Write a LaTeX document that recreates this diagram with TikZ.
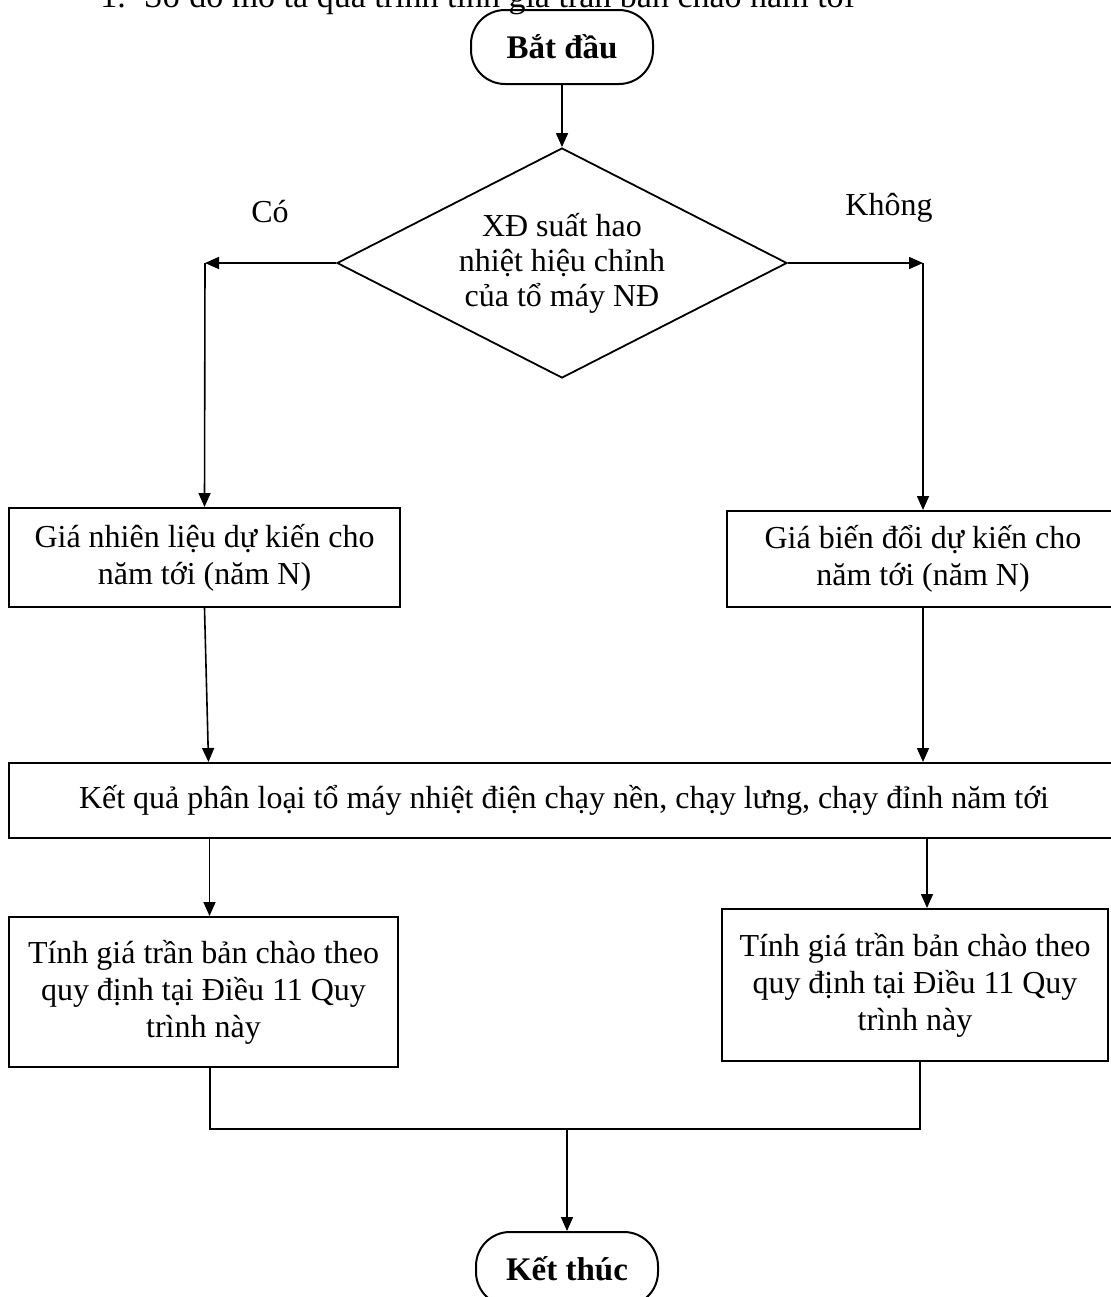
\documentclass[tikz,border=0pt]{standalone}
\usepackage{fontspec}
\setmainfont{Liberation Serif}
\usetikzlibrary{shapes.geometric,arrows.meta,positioning}

\begin{document}
\begin{tikzpicture}[
    x=0.5pt, y=-0.5pt,
    every node/.style={font=\fontsize{16}{18.5}\selectfont},
    box/.style={draw, line width=1pt, align=center, inner sep=0pt}, % process boxes
    terminal/.style={draw, line width=1pt, rounded corners=17pt, minimum width=91pt, minimum height=37pt, font=\fontsize{16.5}{18}\selectfont\bfseries},
    decision/.style={draw, diamond, aspect=2, line width=0.9pt, align=center, inner sep=0pt, minimum width=225pt, minimum height=115pt, font=\fontsize{16}{17.5}\selectfont},
    arr/.style={line width=0.8pt, -{Triangle[length=7pt,width=6pt]}},
    link/.style={line width=0.8pt}
]
    \useasboundingbox (0,0) rectangle (1110,1297);

    % Title (cut off at the top)
    \node[anchor=base west, inner sep=0pt, font=\fontsize{17}{19}\selectfont] (title) at (100,7) {1.\hspace{9pt}Sơ đồ mô tả quá trình tính giá trần bản chào năm tới};

    % Start and decision
    \node[terminal] (start) at (562,47) {Bắt đầu};
    \node[decision] (dec) at (562,263) {XĐ suất hao\\nhiệt hiệu chỉnh\\của tổ máy NĐ};
    \node (yeslbl) at (270,212) {Có};
    \node (nolbl) at (889,208) {Không};

    % Turning points of the two branches
    \coordinate (yes) at (205,263);
    \coordinate (no) at (923,263);

    % Prices
    \node[box, minimum width=195.5pt, minimum height=49.5pt] (fuel) at (204.5,557.5) {Giá nhiên liệu dự kiến cho\\năm tới (năm N)};
    \node[box, minimum width=196pt, minimum height=48pt] (vary) at (923,559) {Giá biến đổi dự kiến cho\\năm tới (năm N)};

    % Classification
    \node[box, minimum width=555pt, minimum height=37.5pt] (class) at (564,800.5) {Kết quả phân loại tổ máy nhiệt điện chạy nền, chạy lưng, chạy đỉnh năm tới};

    % Ceiling price
    \node[box, minimum width=194.5pt, minimum height=75pt] (calcL) at (203.5,992) {Tính giá trần bản chào theo\\quy định tại Điều 11 Quy\\trình này};
    \node[box, minimum width=193pt, minimum height=76pt] (calcR) at (915,985) {Tính giá trần bản chào theo\\quy định tại Điều 11 Quy\\trình này};

    \node[terminal] (stop) at (567,1269) {Kết thúc};

    % Join points
    \coordinate (joinL) at (210,1129);
    \coordinate (joinR) at (920,1129);
    \coordinate (joinM) at (567,1129);

    % Connectors
    \draw[arr] (start) -- (dec);
    \draw[arr] (dec.west) -- (yes);
    \draw[arr] (yes) -- (fuel.north);
    \draw[arr] (dec.east) -- (no);
    \draw[arr] (no) -- (vary.north);
    \draw[arr] (fuel.south) -- ([xshift=2pt]fuel.south |- class.north);
    \draw[arr] (vary.south) -- (vary.south |- class.north);
    \draw[arr] ([xshift=3pt]calcL.north |- class.south) -- ([xshift=3pt]calcL.north);
    \draw[arr] ([xshift=6pt]calcR.north |- class.south) -- ([xshift=6pt]calcR.north);
    \draw[link] (joinL |- calcL.south) -- (joinL) -- (joinR) -- (joinR |- calcR.south);
    \draw[arr] (joinM) -- (stop);

\end{tikzpicture}
\end{document}
